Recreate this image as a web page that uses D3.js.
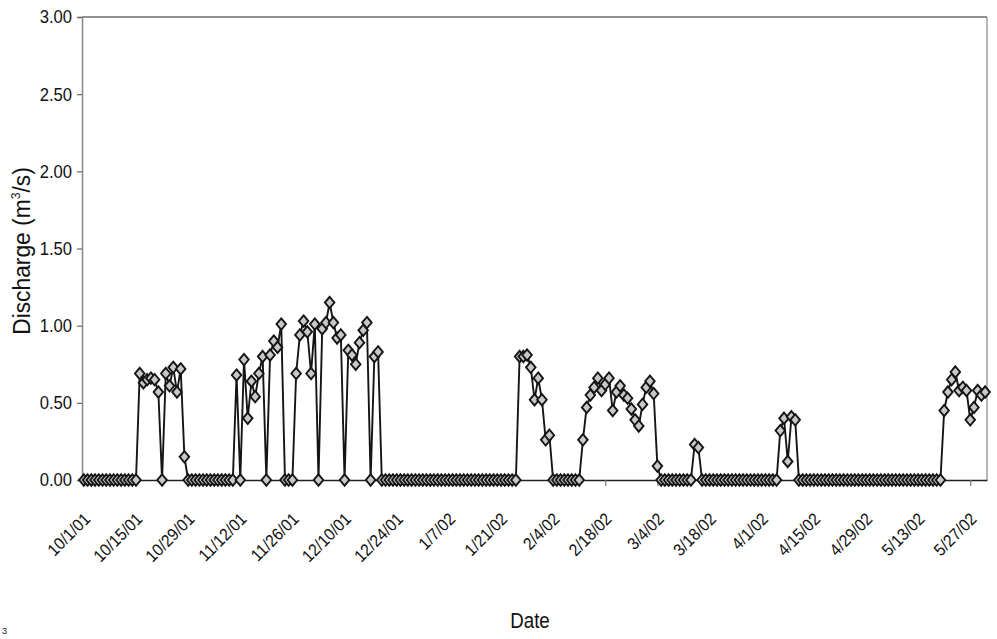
<!DOCTYPE html>
<html><head><meta charset="utf-8">
<script src="https://cdn.jsdelivr.net/npm/d3@7"></script>
<style>
body{margin:0;background:#fff;}
svg text{font-family:"Liberation Sans Narrow","Arial Narrow","Liberation Sans",Arial,sans-serif;fill:#111;}
</style></head><body>
<svg id="chart" width="997" height="639"></svg>
<script>
// ---- data ----
const startDate = "2001-10-01";           // first daily value
const discharge = [
  0,0,0,0,0,0,0,0,0,0, 0,0,0,0,0,
  0.69,0.63,0.65,0.66,0.65,0.57,0,0.69,0.61,0.73,0.57,0.72,0.15,
  0,0,0,0,0,0,0,0,0,0, 0,0,0,
  0.68,0,0.78,0.40,0.64,0.54,0.69,0.80,0,0.81,0.90,0.86,1.01,
  0,0,0,
  0.69,0.94,1.03,0.96,0.69,1.01,0,0.98,1.02,1.15,1.02,0.92,0.94,0,0.84,0.81,0.75,0.89,0.97,1.02,0,0.80,0.83,
  0,0,0,0,0,0,0,0,0,0, 0,0,0,0,0,0,0,0,0,0, 0,0,0,0,0,0,0,0,0,0, 0,0,0,0,0,0,0,
  0.80,0.80,0.81,0.73,0.52,0.66,0.52,0.26,0.29,
  0,0,0,0,0,0,0,0,
  0.26,0.47,0.55,0.60,0.66,0.58,0.62,0.66,0.45,0.57,0.61,0.55,0.53,0.46,0.39,0.35,0.49,0.60,0.64,0.56,0.09,
  0,0,0,0,0,0,0,0,0,
  0.23,0.21,
  0,0,0,0,0,0,0,0,0,0, 0,0,0,0,0,0,0,0,0,0, 0,
  0.32,0.40,0.12,0.41,0.39,
  0,0,0,0,0,0,0,0,0,0, 0,0,0,0,0,0,0,0,0,0, 0,0,0,0,0,0,0,0,0,0, 0,0,0,0,0,0,0,0,0,
  0.45,0.57,0.65,0.70,0.58,0.60,0.58,0.39,0.47,0.58,0.55,0.57
];
const xTickLabels = ["10/1/01","10/15/01","10/29/01","11/12/01","11/26/01","12/10/01","12/24/01",
  "1/7/02","1/21/02","2/4/02","2/18/02","3/4/02","3/18/02","4/1/02","4/15/02","4/29/02","5/13/02","5/27/02"];
const yTicks = [0, 0.5, 1, 1.5, 2, 2.5, 3];
const yTitleParts = ["Discharge (m", "3", "/s)"];
const xTitle = "Date";

// ---- build ----
const parseISO = d3.utcParse("%Y-%m-%d");
const parseTick = d3.utcParse("%m/%d/%y");
const start = parseISO(startDate);
const data = discharge.map((v, i) => ({date: d3.utcDay.offset(start, i), value: v}));
const last = data[data.length - 1].date;

const L = 82, R = 987, T = 17, B = 480;
const svg = d3.select("#chart");

const x = d3.scaleUtc()
  .domain([d3.utcHour.offset(start, -12), d3.utcHour.offset(last, 12)])
  .range([L, R]);
const y = d3.scaleLinear().domain([0, 3]).range([B, T]);

// frame
svg.append("line").attr("x1", L).attr("x2", R).attr("y1", T).attr("y2", T)
  .attr("stroke", "#222").attr("stroke-width", 1.2);
svg.append("line").attr("x1", R).attr("x2", R).attr("y1", T).attr("y2", B)
  .attr("stroke", "#888").attr("stroke-width", 1.2);

// y axis
const yAxis = svg.append("g").attr("transform", `translate(${L},0)`)
  .call(d3.axisLeft(y).tickValues(yTicks).tickFormat(d3.format(".2f")).tickSize(5).tickPadding(5));
yAxis.select(".domain").attr("stroke", "#888").attr("stroke-width", 1.5);
yAxis.selectAll(".tick line").attr("stroke", "#666").attr("stroke-width", 1.2);
yAxis.selectAll(".tick text").attr("font-size", 18.5).attr("font-family", null)
  .attr("x", -10 / 0.9).attr("transform", "scale(0.9,1)");

// x axis
const tickDates = xTickLabels.map(s => parseTick(s));
const xAxis = svg.append("g").attr("transform", `translate(0,${B})`)
  .call(d3.axisBottom(x).tickValues(tickDates).tickFormat((d, i) => xTickLabels[i]).tickSize(6).tickSizeOuter(0));
xAxis.select(".domain").attr("stroke", "#222").attr("stroke-width", 1.4);
xAxis.selectAll(".tick line").attr("stroke", "#777").attr("stroke-width", 1.2);
xAxis.selectAll(".tick text")
  .attr("font-size", 17).attr("font-family", null)
  .attr("text-anchor", "end")
  .attr("x", 0).attr("y", 0).attr("dy", 0)
  .attr("transform", "translate(7,40) rotate(-45) scale(0.92,1)");

// series line
const line = d3.line().x(d => x(d.date)).y(d => y(d.value));
svg.append("path").datum(data).attr("d", line)
  .attr("fill", "none").attr("stroke", "#151515").attr("stroke-width", 1.9)
  .attr("stroke-linejoin", "round");

// diamond markers
const diamondType = {
  draw(ctx, size) {
    const h = Math.sqrt(size) * 0.62, w = h * 0.84;
    ctx.moveTo(0, -h); ctx.lineTo(w, 0); ctx.lineTo(0, h); ctx.lineTo(-w, 0); ctx.closePath();
  }
};
const sym = d3.symbol().type(diamondType).size(84);
svg.append("g").selectAll("path").data(data).join("path")
  .attr("d", sym)
  .attr("transform", d => `translate(${x(d.date)},${y(d.value)})`)
  .attr("fill", "#c8c8c8").attr("stroke", "#151515").attr("stroke-width", 1.9);

// titles
const yt = svg.append("text")
  .attr("transform", "translate(30,251) rotate(-90) scale(0.95,1)")
  .attr("text-anchor", "middle").attr("font-size", 24)
  .style("font-family", "'Liberation Sans', Arial, sans-serif");
yt.append("tspan").text(yTitleParts[0]);
yt.append("tspan").text(yTitleParts[1]).attr("font-size", 13).attr("dy", -10);
yt.append("tspan").text(yTitleParts[2]).attr("dy", 10);

svg.append("text").attr("transform", "translate(530,628) scale(0.85,1)").attr("text-anchor", "middle")
  .attr("font-size", 22).text(xTitle);

svg.append("text").attr("x", 2).attr("y", 634).attr("font-size", 9).text("3");
</script>
</body></html>
